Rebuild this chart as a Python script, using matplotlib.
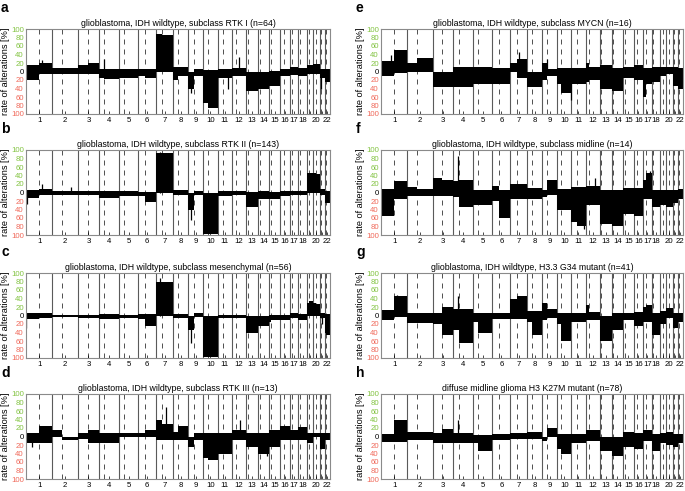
import numpy as np
import matplotlib
matplotlib.use("Agg")
from matplotlib import pyplot as plt

plt.rcParams["font.family"] = ["Liberation Sans", "DejaVu Sans"]

# hg19 chromosome lengths and centromere positions (Mb)
CHROM_LEN = [249.3, 243.2, 198.0, 191.2, 180.9, 171.1, 159.1, 146.4, 141.2, 135.5, 135.0,
             133.9, 115.2, 107.3, 102.5, 90.4, 81.2, 78.1, 59.1, 63.0, 48.1, 51.3]
CENTRO = [125.0, 93.3, 91.0, 50.4, 48.4, 61.0, 59.9, 45.6, 49.0, 40.2, 53.7,
          35.8, 17.9, 17.6, 19.0, 36.6, 24.0, 17.2, 26.5, 27.5, 13.2, 14.7]
CHROM_LABELS = ["1", "2", "3", "4", "5", "6", "7", "8", "9", "10", "11", "12",
                "13", "14", "15", "16", "17", "18", "", "20", "", "22"]

# a: RTK I
RTK1_GAIN_P = [15, 8, 15, 5, 5, 5, 88, 10, 0, 3, 5, 8, 0, 0, 2, 5, 10, 8, 15, 18, 5, 5]
RTK1_GAIN_Q = [20, 8, 20, 5, 5, 5, 85, 10, 5, 3, 5, 8, 0, 0, 2, 5, 10, 8, 15, 18, 5, 5]
RTK1_LOSS_P = [20, 5, 5, 15, 15, 10, 0, 20, 40, 75, 15, 10, 45, 40, 35, 10, 8, 10, 5, 5, 15, 25]
RTK1_LOSS_Q = [5, 5, 5, 18, 15, 15, 0, 10, 10, 85, 15, 10, 45, 40, 35, 10, 8, 10, 5, 5, 15, 25]
RTK1_SPIKES = [(1, 150, 28), (4, 45, 30), (9, 22, -50), (11, 100, -40), (12, 70, 35), (21, 15, -40)]

# b: RTK II
RTK2_GAIN_P = [7, 3, 3, 3, 3, 2, 92, 5, 0, 0, 3, 3, 2, 3, 2, 3, 3, 3, 47, 45, 8, 3]
RTK2_GAIN_Q = [8, 3, 3, 3, 3, 2, 92, 5, 3, 0, 3, 3, 2, 3, 2, 3, 3, 3, 47, 43, 8, 3]
RTK2_LOSS_P = [12, 5, 7, 12, 8, 8, 0, 5, 40, 97, 8, 5, 33, 15, 15, 8, 5, 5, 0, 0, 5, 25]
RTK2_LOSS_Q = [5, 5, 7, 12, 8, 22, 0, 5, 5, 97, 8, 5, 33, 15, 15, 8, 5, 5, 0, 0, 5, 25]
RTK2_SPIKES = [(1, 5, -28), (1, 150, 20), (2, 180, 13), (9, 22, -65), (7, 40, 96)]

# c: mesenchymal
MES_GAIN_P = [5, 2, 2, 3, 2, 3, 80, 3, 0, 0, 2, 2, 0, 0, 2, 2, 5, 3, 30, 30, 5, 3]
MES_GAIN_Q = [5, 2, 2, 3, 2, 3, 80, 3, 5, 0, 2, 2, 0, 0, 2, 2, 5, 3, 33, 28, 5, 3]
MES_LOSS_P = [8, 3, 5, 8, 5, 8, 0, 5, 35, 97, 5, 5, 40, 25, 15, 10, 5, 10, 0, 0, 5, 40]
MES_LOSS_Q = [5, 3, 5, 8, 5, 25, 0, 5, 3, 97, 5, 5, 40, 25, 10, 10, 5, 10, 0, 0, 5, 45]
MES_SPIKES = [(1, 3, -30), (9, 22, -65), (21, 20, -20), (7, 40, 88)]

# d: RTK III
RTK3_GAIN_P = [8, 15, 8, 8, 8, 8, 38, 10, 0, 8, 8, 15, 8, 8, 15, 25, 15, 22, 8, 8, 8, 8]
RTK3_GAIN_Q = [25, 0, 15, 8, 8, 15, 30, 25, 8, 8, 8, 15, 8, 8, 15, 25, 15, 22, 8, 8, 8, 8]
RTK3_LOSS_P = [15, 0, 5, 15, 0, 0, 8, 8, 25, 50, 40, 8, 25, 40, 25, 8, 8, 8, 15, 0, 30, 8]
RTK3_LOSS_Q = [15, 8, 15, 15, 0, 0, 8, 8, 8, 55, 40, 8, 25, 40, 25, 8, 8, 8, 15, 0, 30, 8]
RTK3_SPIKES = [(1, 60, -25), (7, 90, 70), (12, 80, 40), (14, 80, -45)]

# e: MYCN
MYCN_GAIN_P = [25, 20, 0, 10, 10, 8, 20, 0, 20, 8, 8, 20, 15, 8, 10, 15, 8, 10, 10, 10, 10, 8]
MYCN_GAIN_Q = [50, 32, 0, 10, 10, 8, 30, 0, 5, 8, 8, 10, 15, 8, 10, 15, 8, 10, 10, 10, 10, 8]
MYCN_LOSS_P = [10, 0, 37, 37, 30, 30, 0, 37, 20, 30, 30, 25, 40, 45, 15, 20, 60, 25, 10, 5, 35, 40]
MYCN_LOSS_Q = [3, 0, 37, 37, 30, 30, 15, 37, 10, 50, 30, 20, 40, 45, 15, 20, 30, 25, 10, 5, 35, 40]
MYCN_SPIKES = [(1, 100, 38), (7, 80, 45), (10, 130, -68), (9, 40, 30)]

# f: midline
MID_GAIN_P = [8, 12, 35, 28, 5, 15, 20, 10, 5, 8, 12, 15, 5, 5, 10, 10, 30, 5, 5, 5, 5, 8]
MID_GAIN_Q = [28, 8, 30, 30, 5, 5, 20, 10, 30, 8, 12, 15, 5, 5, 10, 10, 45, 5, 5, 5, 5, 8]
MID_LOSS_P = [55, 8, 8, 10, 30, 20, 15, 15, 10, 40, 70, 30, 75, 80, 50, 55, 15, 35, 30, 35, 25, 15]
MID_LOSS_Q = [15, 8, 8, 35, 30, 60, 15, 15, 5, 40, 80, 30, 75, 80, 50, 55, 15, 35, 30, 35, 25, 15]
MID_SPIKES = [(4, 45, 85), (12, 90, 35), (11, 120, -85), (17, 70, 50)]

# g: H3.3 G34
G34_GAIN_P = [12, 5, 5, 15, 5, 5, 40, 10, 30, 5, 5, 25, 0, 5, 5, 8, 20, 5, 10, 18, 5, 5]
G34_GAIN_Q = [45, 5, 20, 15, 5, 5, 45, 10, 15, 5, 5, 8, 0, 5, 5, 8, 25, 5, 10, 18, 5, 5]
G34_LOSS_P = [10, 18, 20, 35, 15, 8, 8, 15, 10, 20, 15, 10, 60, 35, 10, 25, 15, 45, 20, 5, 30, 15]
G34_LOSS_Q = [3, 18, 45, 65, 40, 8, 8, 45, 5, 60, 15, 10, 60, 35, 10, 25, 15, 45, 20, 5, 30, 15]
G34_SPIKES = [(4, 45, 45), (1, 150, 48)]

# h: DMG H3 K27M
K27_GAIN_P = [5, 10, 8, 8, 3, 5, 8, 10, 0, 5, 5, 15, 0, 0, 10, 8, 15, 5, 8, 10, 5, 5]
K27_GAIN_Q = [38, 10, 18, 8, 3, 5, 8, 10, 20, 5, 5, 15, 0, 0, 10, 8, 15, 5, 8, 10, 5, 5]
K27_LOSS_P = [12, 8, 15, 15, 15, 8, 5, 5, 10, 30, 15, 10, 35, 45, 25, 30, 10, 35, 15, 20, 25, 15]
K27_LOSS_Q = [12, 8, 15, 15, 35, 8, 5, 5, 0, 40, 15, 10, 35, 45, 25, 30, 10, 35, 15, 20, 25, 15]
K27_SPIKES = [(4, 45, 38)]

PANELS = [
    ("a", "glioblastoma, IDH wildtype, subclass RTK I (n=64)",
     RTK1_GAIN_P, RTK1_GAIN_Q, RTK1_LOSS_P, RTK1_LOSS_Q, RTK1_SPIKES),
    ("b", "glioblastoma, IDH wildtype, subclass RTK II (n=143)",
     RTK2_GAIN_P, RTK2_GAIN_Q, RTK2_LOSS_P, RTK2_LOSS_Q, RTK2_SPIKES),
    ("c", "glioblastoma, IDH wildtype, subclass mesenchymal (n=56)",
     MES_GAIN_P, MES_GAIN_Q, MES_LOSS_P, MES_LOSS_Q, MES_SPIKES),
    ("d", "glioblastoma, IDH wildtype, subclass RTK III (n=13)",
     RTK3_GAIN_P, RTK3_GAIN_Q, RTK3_LOSS_P, RTK3_LOSS_Q, RTK3_SPIKES),
    ("e", "glioblastoma, IDH wildtype, subclass MYCN (n=16)",
     MYCN_GAIN_P, MYCN_GAIN_Q, MYCN_LOSS_P, MYCN_LOSS_Q, MYCN_SPIKES),
    ("f", "glioblastoma, IDH wildtype, subclass midline (n=14)",
     MID_GAIN_P, MID_GAIN_Q, MID_LOSS_P, MID_LOSS_Q, MID_SPIKES),
    ("g", "glioblastoma, IDH wildtype, H3.3 G34 mutant (n=41)",
     G34_GAIN_P, G34_GAIN_Q, G34_LOSS_P, G34_LOSS_Q, G34_SPIKES),
    ("h", "diffuse midline glioma H3 K27M mutant (n=78)",
     K27_GAIN_P, K27_GAIN_Q, K27_LOSS_P, K27_LOSS_Q, K27_SPIKES),
]

GREEN = "#82c341"
RED = "#f0695a"

W, H = 685, 491
fig = plt.figure(figsize=(W / 100, H / 100), dpi=100)

starts = np.concatenate([[0], np.cumsum(CHROM_LEN)[:-1]])
ends = np.cumsum(CHROM_LEN)
cen = starts + np.array(CENTRO)
mids = (starts + ends) / 2
edges = np.empty(2 * len(CHROM_LEN) + 1)
edges[0:-1:2] = starts
edges[1::2] = cen
edges[-1] = ends[-1]

col_x = [(26, 304), (381, 302)]
row_top = [29, 150, 273, 394]
ax_h = 85


def draw_panel(ax, gp, gq, lp, lq, spikes):
    gains = np.ravel(np.column_stack([gp, gq]))
    losses = -np.ravel(np.column_stack([lp, lq]))
    for x in ends[:-1]:
        ax.axvline(x, color="#5a5a5a", lw=0.8, zorder=1)
    for x in cen:
        ax.axvline(x, color="#333333", lw=0.6, ls=(0, (6, 6)), zorder=1)
    ax.stairs(gains, edges, baseline=0, fill=True, color="black", lw=0, zorder=2)
    ax.stairs(losses, edges, baseline=0, fill=True, color="black", lw=0, zorder=2)
    for chrom, pos, val in spikes:
        ax.vlines(starts[chrom - 1] + pos, 0, val, color="black", lw=0.9, zorder=2)
    ax.set_xlim(0, ends[-1])
    ax.set_ylim(-100, 100)
    yt = np.arange(-100, 101, 20)
    ax.set_yticks(yt)
    ax.set_yticklabels([str(abs(v)) for v in yt], fontsize=5.6)
    for lab, v in zip(ax.get_yticklabels(), yt):
        lab.set_color(GREEN if v > 0 else (RED if v < 0 else "black"))
    ax.set_xticks(mids)
    ax.set_xticklabels(CHROM_LABELS, fontsize=5.6)
    ax.tick_params(axis="x", direction="in", length=2, width=0.5, pad=2)
    ax.tick_params(axis="y", length=0, pad=1.5)
    for s in ax.spines.values():
        s.set_color("#8a8a8a")
        s.set_linewidth(0.8)
    ax.set_ylabel("rate of alterations [%]", fontsize=6.6, labelpad=1)


for i, (letter, title, gp, gq, lp, lq, spikes) in enumerate(PANELS):
    col, row = divmod(i, 4)
    x0, w = col_x[col]
    top = row_top[row]
    ax = fig.add_axes([x0 / W, 1 - (top + ax_h) / H, w / W, ax_h / H])
    draw_panel(ax, gp, gq, lp, lq, spikes)
    ax.set_title(title, fontsize=6.3, pad=2.5)
    fig.text((x0 - 25) / W, 1 - (top - 21) / H, letter, fontsize=10,
             fontweight="bold", ha="left", va="center")

fig.savefig("out.png", dpi=100)
